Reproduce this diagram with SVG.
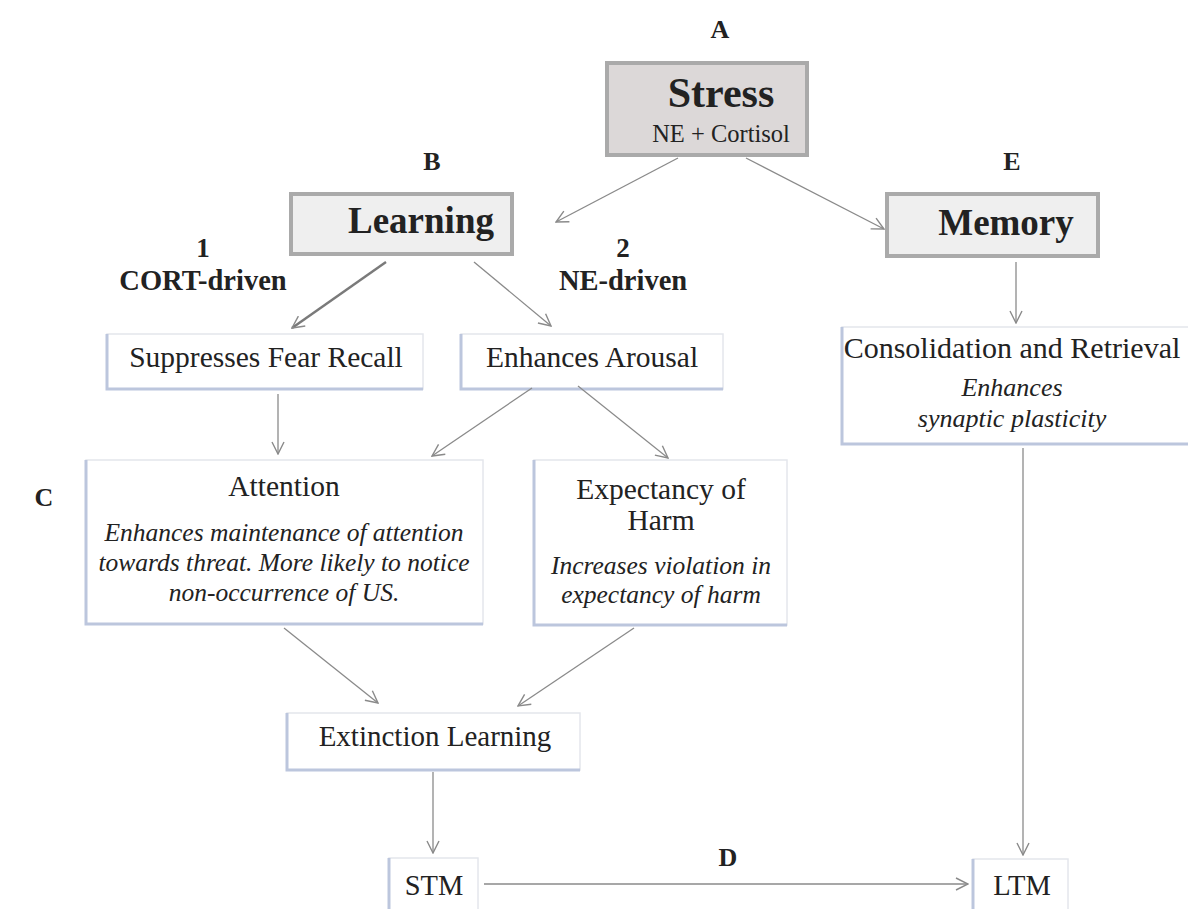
<svg xmlns="http://www.w3.org/2000/svg" width="1188" height="909" viewBox="0 0 1188 909">
<defs>
<style>
.t{font-family:"Liberation Serif","Times New Roman",serif;fill:#222;text-anchor:middle}
.b{font-weight:bold}
.i{font-style:italic}
.box{fill:#fff;stroke:#e4e6ec;stroke-width:1.5}
.edge{fill:none;stroke:#bcc6dd;stroke-width:3}
.gbox{stroke:#aaaaaa;stroke-width:4}
.c{fill:none;stroke:#8a8a8a;stroke-width:1.3;marker-end:url(#ah)}
</style>
<marker id="ah" markerUnits="userSpaceOnUse" viewBox="0 0 14 14" refX="13" refY="7" markerWidth="14" markerHeight="14" orient="auto">
<path d="M1,1 L13,7 L1,13" fill="none" stroke="#8a8a8a" stroke-width="1.4"/>
</marker>
</defs>
<rect width="1188" height="909" fill="#fff"/>

<g id="labels">
<text class="t b" x="720" y="38" font-size="26">A</text>
<text class="t b" x="432" y="170" font-size="26">B</text>
<text class="t b" x="1012" y="170" font-size="26">E</text>
<text class="t b" x="44" y="506" font-size="26">C</text>
<text class="t b" x="728" y="866" font-size="26">D</text>
<text class="t b" x="203" y="257" font-size="27">1</text>
<text class="t b" x="203" y="290" font-size="28.5">CORT-driven</text>
<text class="t b" x="623" y="257" font-size="27">2</text>
<text class="t b" x="623" y="290" font-size="28.5">NE-driven</text>
</g>

<g id="stress">
<rect class="gbox" x="607" y="63" width="200" height="92" fill="#dcd8d8"/>
<text class="t b" x="721" y="107" font-size="42">Stress</text>
<text class="t" x="721" y="142" font-size="24.5">NE + Cortisol</text>
</g>

<g id="learning">
<rect class="gbox" x="291" y="194" width="221" height="60" fill="#efefef"/>
<text class="t b" x="421" y="233" font-size="37">Learning</text>
</g>

<g id="memory">
<rect class="gbox" x="887" y="194" width="211" height="62" fill="#efefef"/>
<text class="t b" x="1006" y="235" font-size="37">Memory</text>
</g>

<g id="suppresses">
<rect class="box" x="107" y="334" width="316" height="55"/>
<path class="edge" d="M107,334 L107,389 L423,389"/>
<text class="t" x="266" y="367" font-size="29.5">Suppresses Fear Recall</text>
</g>

<g id="arousal">
<rect class="box" x="461" y="334" width="262" height="55"/>
<path class="edge" d="M461,334 L461,389 L723,389"/>
<text class="t" x="592" y="367" font-size="29.5">Enhances Arousal</text>
</g>

<g id="consolidation">
<rect class="box" x="842" y="327" width="350" height="117"/>
<path class="edge" d="M842,327 L842,444 L1192,444"/>
<text class="t" x="1012" y="358" font-size="30">Consolidation and Retrieval</text>
<text class="t i" x="1012" y="396" font-size="26">Enhances</text>
<text class="t i" x="1012" y="427" font-size="26">synaptic plasticity</text>
</g>

<g id="attention">
<rect class="box" x="86" y="460" width="397" height="164"/>
<path class="edge" d="M86,460 L86,624 L483,624"/>
<text class="t" x="284" y="496" font-size="29.5">Attention</text>
<text class="t i" x="284" y="541" font-size="25.5">Enhances maintenance of attention</text>
<text class="t i" x="284" y="571" font-size="25.5">towards threat. More likely to notice</text>
<text class="t i" x="284" y="601" font-size="25.5">non-occurrence of US.</text>
</g>

<g id="expectancy">
<rect class="box" x="534" y="460" width="253" height="165"/>
<path class="edge" d="M534,460 L534,625 L787,625"/>
<text class="t" x="661" y="499" font-size="29.5">Expectancy of</text>
<text class="t" x="661" y="530" font-size="29.5">Harm</text>
<text class="t i" x="661" y="574" font-size="25.5">Increases violation in</text>
<text class="t i" x="661" y="603" font-size="25.5">expectancy of harm</text>
</g>

<g id="extinction">
<rect class="box" x="287" y="713" width="293" height="57"/>
<path class="edge" d="M287,713 L287,770 L580,770"/>
<text class="t" x="435" y="746" font-size="29">Extinction Learning</text>
</g>

<g id="stm">
<rect class="box" x="389" y="858" width="89" height="55"/>
<path class="edge" d="M389,858 L389,913"/>
<text class="t" x="434" y="895" font-size="28.5">STM</text>
</g>

<g id="ltm">
<rect class="box" x="973" y="859" width="95" height="55"/>
<path class="edge" d="M973,859 L973,913"/>
<text class="t" x="1022" y="895" font-size="28.5">LTM</text>
</g>

<g id="connectors">
<line class="c" x1="678" y1="158" x2="556" y2="222"/>
<line class="c" x1="746" y1="158" x2="884" y2="229"/>
<line class="c" x1="386" y1="262" x2="292" y2="328" style="stroke-width:2.5;stroke:#7a7a7a"/>
<line class="c" x1="474" y1="262" x2="551" y2="326"/>
<line class="c" x1="1016" y1="262" x2="1016" y2="323"/>
<line class="c" x1="278" y1="394" x2="278" y2="454"/>
<line class="c" x1="532" y1="388" x2="432" y2="456"/>
<line class="c" x1="578" y1="386" x2="668" y2="458"/>
<line class="c" x1="284" y1="628" x2="378" y2="703"/>
<line class="c" x1="634" y1="628" x2="518" y2="706"/>
<line class="c" x1="433" y1="772" x2="433" y2="853"/>
<line class="c" x1="1023" y1="448" x2="1023" y2="855"/>
<line class="c" x1="484" y1="884" x2="968" y2="884"/>
</g>
</svg>
